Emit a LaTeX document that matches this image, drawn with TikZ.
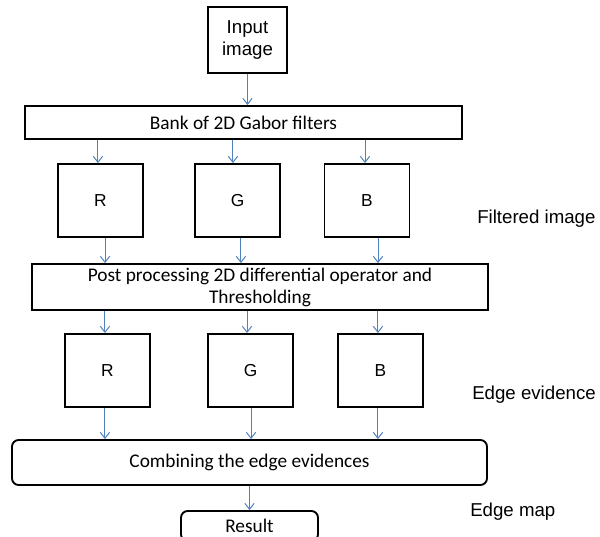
\documentclass[tikz,border=0pt]{standalone}
\usepackage{fontspec}
\setmainfont{Carlito}
\newfontfamily\arialfont{Liberation Sans}
\usetikzlibrary{positioning,arrows.meta}

\definecolor{arrowblue}{RGB}{79,129,189}

\begin{document}
\begin{tikzpicture}[
  x=0.75pt, y=-0.75pt,
  box/.style={draw, line width=1.4pt, inner sep=0pt, align=center, font=\fontsize{14.5}{16.5}\selectfont},
  chan/.style={box, minimum width=63.75pt, minimum height=54.75pt, font=\arialfont\fontsize{13}{15}\selectfont},
  side/.style={anchor=west, inner sep=0pt, font=\arialfont\fontsize{14}{16}\selectfont},
  arr/.style={-{Straight Barb[length=4.5pt, width=7pt]}, arrowblue, line width=0.75pt}
]
\useasboundingbox (0,0) rectangle (600,536);
\clip (0,0) rectangle (600,536);

% input and filter bank
\node[box, minimum width=59.25pt, minimum height=49.5pt, font=\arialfont\fontsize{14}{17}\selectfont] (input) at (247.5,40) {Input\\image};
\node[box, minimum width=327.75pt, minimum height=24.75pt] (bank) at (243.5,122.5) {Bank of 2D Gabor filters};

% filtered channels
\node[chan] (r1) at (100.5,200.5) {R};
\node[chan] (g1) at (237.5,200.5) {G};
\node[chan] (b1) at (367,200.5) {B};
\node[side] (filtered) at (477,219) {Filtered image};

% post processing
\node[box, minimum width=342pt, minimum height=34.5pt] (post) at (260,287) {Post processing 2D differential operator and\\Thresholding};

% edge evidence channels
\node[chan] (r2) at (107.5,370.5) {R};
\node[chan] (g2) at (250.5,370.5) {G};
\node[chan] (b2) at (380.5,370.5) {B};
\node[side] (evidence) at (472,395) {Edge evidence};

% combination and result
\node[box, rounded corners=5pt, minimum width=356.25pt, minimum height=33.75pt] (comb) at (249.5,462.5) {Combining the edge evidences};
\node[box, rounded corners=5pt, minimum width=102.75pt, minimum height=22.5pt] (result) at (249.5,526) {Result};
\node[side] (edgemap) at (470,512) {Edge map};

% connectors
\draw[arr] (input) -- (input.south |- bank.north);
\foreach \n/\dx in {r1/-1.9, g1/-3.4, b1/-1.5}
  \draw[arr] ([xshift=\dx pt]\n.north |- bank.south) -- ([xshift=\dx pt]\n.north);
\foreach \n/\dx in {r1/3.4, g1/2.6, b1/8.25}
  \draw[arr] ([xshift=\dx pt]\n.south) -- ([xshift=\dx pt]\n.south |- post.north);
\foreach \n/\dx in {r2/-1.9, g2/-2.6, b2/-1.9}
  \draw[arr] ([xshift=\dx pt]\n.north |- post.south) -- ([xshift=\dx pt]\n.north);
\foreach \n/\dx in {r2/-1.9, g2/0.4, b2/-1.9}
  \draw[arr] ([xshift=\dx pt]\n.south) -- ([xshift=\dx pt]\n.south |- comb.north);
\draw[arr] (comb) -- (comb.south |- result.north);

\end{tikzpicture}
\end{document}
